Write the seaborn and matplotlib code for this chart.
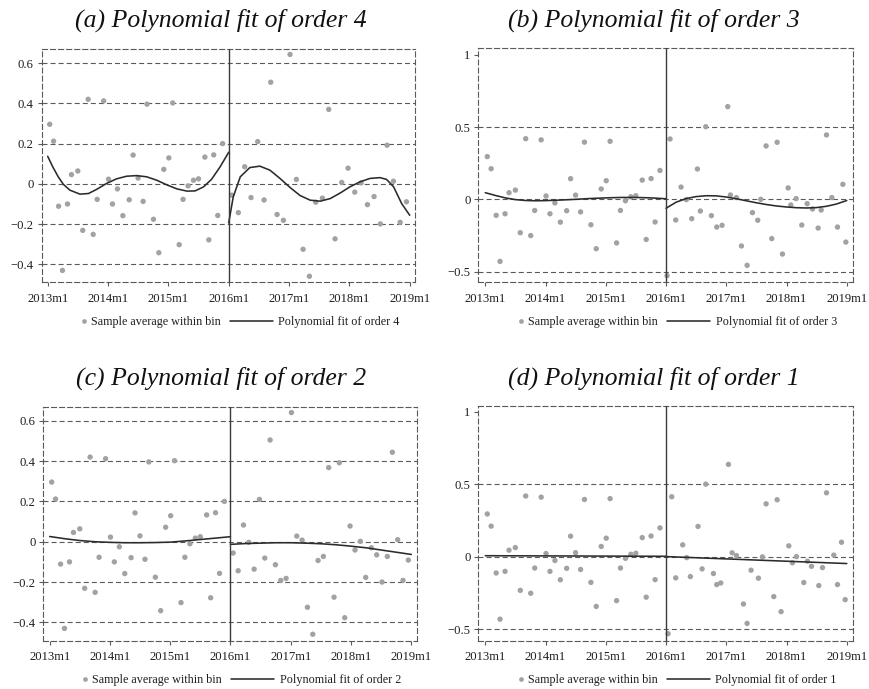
import numpy as np
import pandas as pd
import matplotlib
matplotlib.use("Agg")
import matplotlib.pyplot as plt
from matplotlib.lines import Line2D
from matplotlib.legend_handler import HandlerBase
import seaborn as sns

# ---------------- data (x = months since 2013m1) ----------------
tick_pos = [0, 12, 24, 36, 48, 60, 72]
tick_labels = ["2013m1", "2014m1", "2015m1", "2016m1", "2017m1", "2018m1", "2019m1"]
cutoff = 36

left_x = [0.40, 1.17, 2.17, 2.94, 3.94, 4.73, 5.99, 6.97, 8.05, 9.05, 9.84, 11.13,
          12.10, 12.88, 13.87, 14.95, 16.21, 16.99, 17.98, 18.98, 19.75, 21.04, 22.10, 23.09,
          24.09, 24.86, 26.15, 26.92, 27.92, 29.00, 29.99, 31.26, 32.05, 33.02, 33.82, 34.79]
left_y = [0.296, 0.212, -0.111, -0.430, -0.100, 0.046, 0.064, -0.231, 0.420, -0.251, -0.077, 0.412,
          0.023, -0.100, -0.025, -0.158, -0.079, 0.143, 0.029, -0.087, 0.396, -0.176, -0.342, 0.072,
          0.129, 0.402, -0.302, -0.077, -0.010, 0.018, 0.025, 0.133, -0.278, 0.144, -0.157, 0.200]

right_x_a = [36.60, 37.92, 39.18, 40.44, 41.77, 43.03, 44.36, 45.62, 46.88, 48.20, 49.46, 50.79, 52.05, 53.31,
             54.63, 55.89, 57.15, 58.48, 59.74, 61.07, 62.33, 63.59, 64.91, 66.17, 67.50, 68.76, 70.09, 71.35]
right_y_a = [-0.056, -0.143, 0.085, -0.068, 0.210, -0.080, 0.505, -0.152, -0.181, 0.643, 0.022, -0.325, -0.459, -0.091,
             -0.071, 0.370, -0.273, 0.007, 0.078, -0.041, 0.005, -0.103, -0.063, -0.199, 0.192, 0.013, -0.191, -0.089]

right_x_b = [36.20, 36.80, 37.93, 38.99, 40.05, 41.12, 42.25, 42.84, 43.91, 45.04, 46.10, 47.16, 48.29, 48.82,
             50.02, 51.02, 52.15, 53.21, 54.27, 54.87, 55.93, 57.06, 58.13, 59.19, 60.32, 60.85, 61.91, 63.04,
             64.11, 65.17, 66.30, 66.90, 67.96, 69.02, 70.15, 71.22, 71.81]
right_y_b = [-0.529, 0.418, -0.143, 0.085, -0.002, -0.134, 0.210, -0.081, 0.503, -0.113, -0.192, -0.180, 0.642, 0.030,
             0.012, -0.323, -0.457, -0.092, -0.145, 0.000, 0.370, -0.272, 0.395, -0.379, 0.079, -0.039, 0.005, -0.178,
             -0.030, -0.067, -0.199, -0.074, 0.446, 0.012, -0.192, 0.104, -0.296]

right_x_c = [36.53, 37.53, 38.59, 39.65, 40.71, 41.77, 42.83, 43.89, 44.95, 46.01, 47.07, 48.14, 49.20, 50.26,
             51.32, 52.38, 53.44, 54.50, 55.56, 56.62, 57.68, 58.75, 59.81, 60.80, 61.86, 62.92, 64.05, 65.11,
             66.17, 67.23, 68.23, 69.29, 70.35, 71.41]
right_y_c = [-0.056, -0.144, 0.083, -0.003, -0.136, 0.210, -0.081, 0.505, -0.114, -0.192, -0.182, 0.641, 0.028, 0.008,
             -0.325, -0.459, -0.093, -0.073, 0.368, -0.275, 0.392, -0.377, 0.078, -0.041, 0.002, -0.177, -0.030, -0.065,
             -0.200, -0.073, 0.444, 0.010, -0.192, -0.091]

right_x_d = [36.40, 37.13, 37.93, 39.32, 40.12, 40.85, 42.37, 43.18, 43.91, 45.44, 46.10, 46.90, 48.43, 49.16,
             50.02, 51.42, 52.15, 52.94, 54.40, 55.20, 55.93, 57.46, 58.13, 58.92, 60.45, 61.18, 61.98, 63.44,
             64.17, 64.97, 66.43, 67.16, 67.96, 69.42, 70.15, 70.95, 71.68]
right_y_d = [-0.530, 0.415, -0.145, 0.083, -0.005, -0.136, 0.210, -0.083, 0.502, -0.115, -0.191, -0.180, 0.638, 0.028,
             0.009, -0.325, -0.459, -0.092, -0.147, 0.000, 0.366, -0.274, 0.394, -0.378, 0.076, -0.041, 0.002, -0.177,
             -0.030, -0.065, -0.198, -0.074, 0.442, 0.012, -0.191, 0.101, -0.295]

# fitted curves
fitL_x_a = [0, 1, 2.1, 3.1, 4.4, 6.4, 8.1, 9.7, 11.7, 13.7, 15.7, 17.7, 19.7, 21.7, 23.7, 25.7, 27.7, 29.3, 31.0, 32.6, 34.3, 36]
fitL_y_a = [0.137, 0.085, 0.035, -0.002, -0.031, -0.051, -0.048, -0.028, 0.002, 0.025, 0.038, 0.041, 0.035, 0.018,
            -0.005, -0.025, -0.036, -0.035, -0.015, 0.023, 0.085, 0.157]
fitR_x_a = [36, 36.9, 38.3, 40.2, 42.2, 44.2, 46.2, 48.2, 50.2, 52.2, 54.2, 56.2, 58.2, 60.1, 62.1, 64.1, 66.1, 67.4, 68.8, 70.4, 72]
fitR_y_a = [-0.194, -0.065, 0.035, 0.081, 0.088, 0.068, 0.027, -0.018, -0.058, -0.081, -0.086, -0.073, -0.045, -0.015,
            0.010, 0.027, 0.031, 0.022, -0.015, -0.098, -0.156]

fitL_x_b = [0, 2, 4, 6, 8, 10, 12, 15, 18, 21, 24, 27, 30, 33, 36]
fitL_y_b = [0.046, 0.027, 0.010, -0.002, -0.008, -0.010, -0.009, -0.005, 0.000, 0.006, 0.010, 0.013, 0.013, 0.010, 0.004]
fitR_x_b = [36, 38, 40, 42, 44, 46, 48, 50, 52, 54, 56, 58, 60, 62, 64, 66, 68, 70, 72]
fitR_y_b = [-0.062, -0.020, 0.005, 0.019, 0.025, 0.024, 0.016, 0.004, -0.010, -0.024, -0.036, -0.046, -0.053, -0.058,
            -0.060, -0.057, -0.048, -0.032, -0.008]

fitL_x_c = [0, 3, 6, 9, 12, 15, 18, 21, 24, 27, 30, 33, 36]
fitL_y_c = [0.026, 0.015, 0.006, 0.000, -0.003, -0.005, -0.005, -0.004, -0.002, 0.004, 0.011, 0.018, 0.025]
fitR_x_c = [36, 39, 42, 45, 48, 51, 54, 57, 60, 63, 66, 69, 72]
fitR_y_c = [-0.013, -0.009, -0.007, -0.005, -0.005, -0.007, -0.010, -0.015, -0.022, -0.030, -0.041, -0.052, -0.063]

fitL_x_d = [0, 36]
fitL_y_d = [0.008, 0.004]
fitR_x_d = [36, 72]
fitR_y_d = [0.002, -0.046]

titles = ["(a) Polynomial fit of order 4", "(b) Polynomial fit of order 3",
          "(c) Polynomial fit of order 2", "(d) Polynomial fit of order 1"]
legend_labels = ["Sample average within bin", "Polynomial fit of order {}"]
orders = [4, 3, 2, 1]

# ---------------- style ----------------
sns.set_theme(style="white")
plt.rcParams["font.family"] = ["Liberation Serif", "DejaVu Serif"]
plt.rcParams["lines.scale_dashes"] = False
plt.rcParams["axes.unicode_minus"] = True

W, H = 870, 689
DOT = "#a2a2a2"
LINE = "#2b2b2b"
GRID = "#5a5a5a"
VLINE = "#3a3a3a"
DASH = (0, (3.6, 2.2))
TICK_FS = 9.1
LEG_FS = 8.7


class DotAtEnd(HandlerBase):
    def create_artists(self, legend, orig_handle, xdescent, ydescent, width, height, fontsize, trans):
        ln = Line2D([width - xdescent - 1.0], [height / 2 - ydescent], marker="o", linestyle="none",
                    markersize=3.4, markerfacecolor=DOT, markeredgecolor="none")
        ln.set_transform(trans)
        return [ln]


def px_rect(x0, x1, y0, y1):
    return [x0 / W, 1 - y1 / H, (x1 - x0) / W, (y1 - y0) / H]


panels = [
    dict(rect=px_rect(41.7, 415.0, 49.0, 282.5), xlim=(-1.19, 73.05), ylim=(-0.490, 0.670),
         yticks=[-0.4, -0.2, 0, 0.2, 0.4, 0.6], grid=[-0.4, -0.2, 0, 0.2, 0.4, 0.6],
         rx=right_x_a, ry=right_y_a, fL=(fitL_x_a, fitL_y_a), fR=(fitR_x_a, fitR_y_a),
         title_xy=(220.5, 20), leg_xy=(221, 322)),
    dict(rect=px_rect(478.3, 853.3, 48.3, 282.5), xlim=(-1.39, 73.3), ylim=(-0.576, 1.046),
         yticks=[-0.5, 0, 0.5, 1], grid=[-0.5, 0, 0.5],
         rx=right_x_b, ry=right_y_b, fL=(fitL_x_b, fitL_y_b), fR=(fitR_x_b, fitR_y_b),
         title_xy=(654, 20), leg_xy=(658, 322)),
    dict(rect=px_rect(43.3, 417.3, 406.7, 640.7), xlim=(-1.27, 73.2), ylim=(-0.491, 0.670),
         yticks=[-0.4, -0.2, 0, 0.2, 0.4, 0.6], grid=[-0.4, -0.2, 0, 0.2, 0.4, 0.6],
         rx=right_x_c, ry=right_y_c, fL=(fitL_x_c, fitL_y_c), fR=(fitR_x_c, fitR_y_c),
         title_xy=(221, 378), leg_xy=(222, 680)),
    dict(rect=px_rect(478.3, 853.3, 406.0, 640.5), xlim=(-1.39, 73.3), ylim=(-0.577, 1.041),
         yticks=[-0.5, 0, 0.5, 1], grid=[-0.5, 0, 0.5],
         rx=right_x_d, ry=right_y_d, fL=(fitL_x_d, fitL_y_d), fR=(fitR_x_d, fitR_y_d),
         title_xy=(654, 378), leg_xy=(658, 680)),
]

fig = plt.figure(figsize=(W / 100, H / 100), dpi=100)


def fmt(v):
    s = f"{v:g}"
    return s.replace("-", "\u2212")


for spec, title, order in zip(panels, titles, orders):
    ax = fig.add_axes(spec["rect"])
    pts = pd.DataFrame({"x": list(left_x) + list(spec["rx"]), "y": list(left_y) + list(spec["ry"])})
    for g in spec["grid"]:
        ax.axhline(g, color=GRID, lw=0.8, ls=DASH, zorder=1)
    sns.scatterplot(data=pts, x="x", y="y", ax=ax, color=DOT, s=15, edgecolor="none", linewidth=0,
                    zorder=3, legend=False)
    for fx, fy in (spec["fL"], spec["fR"]):
        sns.lineplot(x=fx, y=fy, ax=ax, color=LINE, lw=1.15, estimator=None, sort=True, zorder=4)
    ax.axvline(cutoff, color=VLINE, lw=1.0, zorder=5)

    ax.set_xlim(*spec["xlim"])
    ax.set_ylim(*spec["ylim"])
    ax.set_xticks(tick_pos)
    ax.set_xticklabels(tick_labels)
    ax.set_yticks(spec["yticks"])
    ax.set_yticklabels([fmt(v) for v in spec["yticks"]])
    ax.set_xlabel("")
    ax.set_ylabel("")
    ax.tick_params(axis="both", which="major", direction="out", length=3.2, width=0.8, color=GRID,
                   labelsize=TICK_FS, labelcolor="#1e1e1e", bottom=True, left=True)
    ax.tick_params(axis="y", pad=2.5)
    ax.tick_params(axis="x", pad=4.5)
    for s in ax.spines.values():
        s.set_visible(True)
        s.set_linestyle(DASH)
        s.set_color(GRID)
        s.set_linewidth(0.8)

    tx, ty = spec["title_xy"]
    fig.text(tx / W, 1 - ty / H, title, ha="center", va="center", fontsize=18.5, style="italic",
             color="#111111")

    handles = [Line2D([], [], marker="o", ls="none", color=DOT, markersize=3.4),
               Line2D([], [], color=LINE, lw=1.15)]
    lx, ly = spec["leg_xy"]
    fig.legend(handles, [legend_labels[0], legend_labels[1].format(order)],
               handler_map={handles[0]: DotAtEnd()},
               loc="center", bbox_to_anchor=(lx / W, 1 - ly / H), bbox_transform=fig.transFigure,
               ncol=2, frameon=False, fontsize=LEG_FS, handlelength=3.56, handletextpad=0.45,
               columnspacing=0.8, borderpad=0, borderaxespad=0, labelcolor="#1e1e1e")

fig.savefig("out.png", dpi=100)
